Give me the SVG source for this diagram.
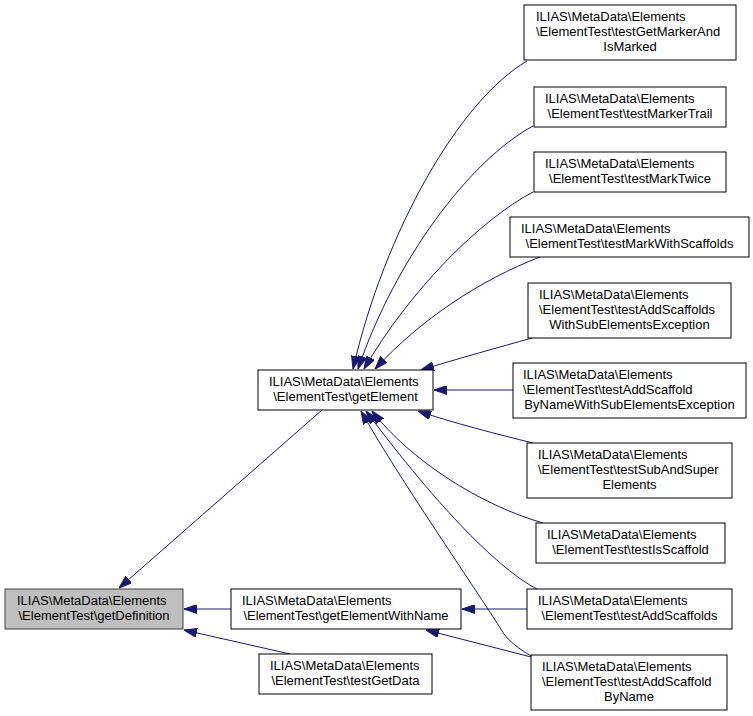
<svg xmlns="http://www.w3.org/2000/svg" width="753" height="716" viewBox="0 0 753 716">
<style>
.n rect{fill:#ffffff;stroke:#000000;stroke-width:1}
.n.cur rect{fill:#bfbfbf;stroke:#404040}
.n text{font-family:"Liberation Sans",Arial,sans-serif;font-size:13px;fill:#000000}
.e path{fill:none;stroke:#191970;stroke-width:1;marker-end:url(#ah)}
</style>
<defs>
<marker id="ah" viewBox="0 0 13 9" markerUnits="userSpaceOnUse" markerWidth="13" markerHeight="9" refX="13" refY="4.5" orient="auto">
<path d="M0,0 L13,4.5 L0,9 Z" fill="#191970" stroke="#191970"/>
</marker>
</defs>
<rect width="753" height="716" fill="#ffffff"/>
<g class="e" id="edges">
<path d="M322,410 L119,588"/>
<path d="M231,609 L184,609"/>
<path d="M290,654 L184,630"/>
<path d="M527,61 C460,100 385,230 353,369"/>
<path d="M533,126 C470,160 395,260 358,369"/>
<path d="M533,192 C480,220 410,290 364,369"/>
<path d="M540,257 C480,280 420,320 375,369"/>
<path d="M532,338 C500,347 460,358 421,370"/>
<path d="M513,390 L434,390"/>
<path d="M533,443 C500,435 450,422 418,411"/>
<path d="M543,523 C480,505 410,460 372,411"/>
<path d="M537,589 C500,570 440,510 366,411"/>
<path d="M531,656 C518,648 510,642 504,634 C470,580 400,480 361,411"/>
<path d="M527,609 L462,609"/>
<path d="M531,657 L426,630"/>
</g>
<g class="n cur" id="getDefinition">
<rect x="5" y="589" width="178" height="40"/>
<text x="17" y="605">ILIAS\MetaData\Elements</text>
<text x="94" y="620" text-anchor="middle">\ElementTest\getDefinition</text>
</g>
<g class="n" id="getElement">
<rect x="258" y="370" width="175" height="40"/>
<text x="269" y="386">ILIAS\MetaData\Elements</text>
<text x="345.5" y="401" text-anchor="middle">\ElementTest\getElement</text>
</g>
<g class="n" id="getElementWithName">
<rect x="231" y="589" width="230" height="40"/>
<text x="242" y="605">ILIAS\MetaData\Elements</text>
<text x="346" y="620" text-anchor="middle">\ElementTest\getElementWithName</text>
</g>
<g class="n" id="testGetData">
<rect x="259" y="654" width="173" height="40"/>
<text x="270" y="670">ILIAS\MetaData\Elements</text>
<text x="345.5" y="685" text-anchor="middle">\ElementTest\testGetData</text>
</g>
<g class="n" id="testGetMarkerAndIsMarked">
<rect x="524" y="5" width="212" height="55"/>
<text x="536" y="21">ILIAS\MetaData\Elements</text>
<text x="536" y="36">\ElementTest\testGetMarkerAnd</text>
<text x="630" y="51" text-anchor="middle">IsMarked</text>
</g>
<g class="n" id="testMarkerTrail">
<rect x="534" y="87" width="192" height="40"/>
<text x="545" y="103">ILIAS\MetaData\Elements</text>
<text x="630" y="118" text-anchor="middle">\ElementTest\testMarkerTrail</text>
</g>
<g class="n" id="testMarkTwice">
<rect x="534" y="152" width="192" height="40"/>
<text x="545" y="168">ILIAS\MetaData\Elements</text>
<text x="630" y="183" text-anchor="middle">\ElementTest\testMarkTwice</text>
</g>
<g class="n" id="testMarkWithScaffolds">
<rect x="510" y="217" width="239" height="40"/>
<text x="521" y="233">ILIAS\MetaData\Elements</text>
<text x="629.5" y="248" text-anchor="middle">\ElementTest\testMarkWithScaffolds</text>
</g>
<g class="n" id="testAddScaffoldsWithSubElementsException">
<rect x="528" y="283" width="203" height="55"/>
<text x="539" y="299">ILIAS\MetaData\Elements</text>
<text x="539" y="314">\ElementTest\testAddScaffolds</text>
<text x="629.5" y="329" text-anchor="middle">WithSubElementsException</text>
</g>
<g class="n" id="testAddScaffoldByNameWithSubElementsException">
<rect x="513" y="363" width="233" height="55"/>
<text x="523" y="379">ILIAS\MetaData\Elements</text>
<text x="523" y="394">\ElementTest\testAddScaffold</text>
<text x="629.5" y="409" text-anchor="middle">ByNameWithSubElementsException</text>
</g>
<g class="n" id="testSubAndSuperElements">
<rect x="527" y="443" width="205" height="55"/>
<text x="538" y="459">ILIAS\MetaData\Elements</text>
<text x="538" y="474">\ElementTest\testSubAndSuper</text>
<text x="629.5" y="489" text-anchor="middle">Elements</text>
</g>
<g class="n" id="testIsScaffold">
<rect x="536" y="523" width="189" height="40"/>
<text x="547" y="539">ILIAS\MetaData\Elements</text>
<text x="630.5" y="554" text-anchor="middle">\ElementTest\testIsScaffold</text>
</g>
<g class="n" id="testAddScaffolds">
<rect x="527" y="589" width="205" height="40"/>
<text x="538" y="605">ILIAS\MetaData\Elements</text>
<text x="629.5" y="620" text-anchor="middle">\ElementTest\testAddScaffolds</text>
</g>
<g class="n" id="testAddScaffoldByName">
<rect x="531" y="655" width="196" height="55"/>
<text x="542" y="671">ILIAS\MetaData\Elements</text>
<text x="542" y="686">\ElementTest\testAddScaffold</text>
<text x="629" y="701" text-anchor="middle">ByName</text>
</g>
</svg>
